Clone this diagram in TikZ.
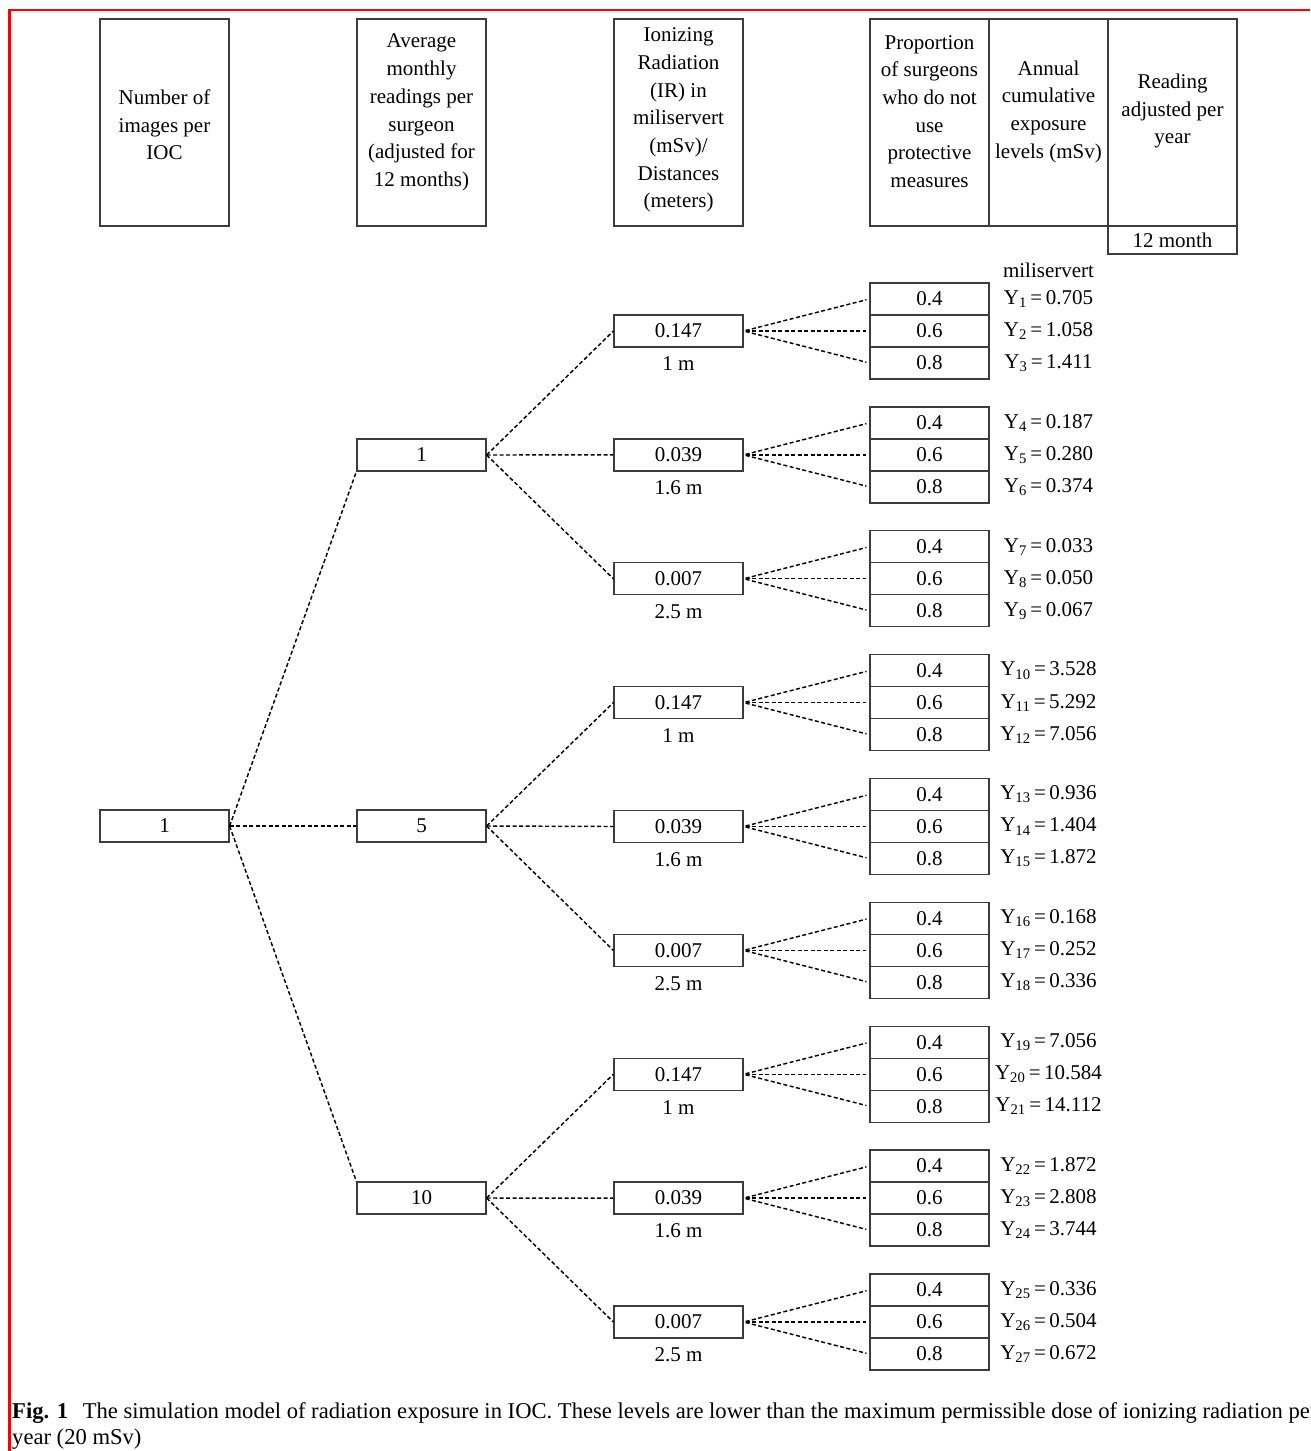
\documentclass[tikz,border=0pt]{standalone}
\usepackage{fontspec}
\setmainfont{Liberation Serif}
\newfontfamily\tnr{Liberation Serif}
\definecolor{boxgray}{RGB}{60,60,60}
\begin{document}
\begin{tikzpicture}[x=1pt,y=-1pt,
  mainfont/.style={font=\tnr\fontsize{21}{27.7}\selectfont},
  hbox/.style={draw=boxgray, line width=1.3pt, minimum height=207pt, inner sep=0pt},
  wide/.style={minimum width=129pt},
  narrow/.style={minimum width=119pt},
  htext/.style={mainfont, align=center, inner sep=0pt},
  vbox/.style={draw=boxgray, line width=1.3pt, minimum width=129pt, minimum height=32pt, inner sep=0pt, mainfont},
  pbox/.style={draw=boxgray, line width=1.3pt, minimum width=119pt, minimum height=32pt, inner sep=0pt, mainfont},
  lab/.style={mainfont, inner sep=0pt},
  conn/.style={dashed, dash pattern=on 4pt off 2.5pt, line width=1.45pt, black},
  capfont/.style={font=\tnr\fontsize{22.6}{26}\selectfont, inner sep=0pt}
]
\useasboundingbox (0,0) rectangle (1310,1451);
\clip (0,0) rectangle (1310,1451);
\fill[white] (0,0) rectangle (1310,1451);

% red frame
\draw[red, line width=2.6pt] (9.5,1460) -- (9.5,10) -- (1320,10);

% header boxes
\node[hbox, wide]   (h1) at (164.5,122.5) {};
\node[hbox, wide]   (h2) at (421.5,122.5) {};
\node[hbox, wide]   (h3) at (678.5,122.5) {};
\node[hbox, narrow] (h4) at (929.5,122.5) {};
\node[hbox, narrow] (h5) at (1048.5,122.5) {};
\node[hbox, wide]   (h6) at (1172.5,122.5) {};
\node[draw=boxgray, line width=1.3pt, minimum width=129pt, minimum height=28pt, inner sep=0pt, mainfont] (h7) at (1172.5,240) {12 month};

\node[htext] (t1) at (164.5,125) {Number of\\images per\\IOC};
\node[htext] (t2) at (421.5,112.5) {Average\\monthly\\readings per\\surgeon\\(adjusted for\\12 months)};
\node[htext] (t3) at (678.5,120) {Ionizing\\Radiation\\(IR) in\\miliservert\\(mSv)/\\Distances\\(meters)};
\node[htext] (t4) at (929.5,111.5) {Proportion\\of surgeons\\who do not\\use\\protective\\measures};
\node[htext] (t5) at (1048.5,111.5) {Annual\\cumulative\\exposure\\levels (mSv)};
\node[htext] (t6) at (1172.5,111) {Reading\\adjusted per\\year};

\node[lab] (unit) at (1048.5,270) {miliservert};

% tree
\node[vbox] (r) at (164.5,826) {1};
\node[vbox] (a1) at (421.5,455) {1};
\node[vbox] (a2) at (421.5,826) {5};
\node[vbox] (a3) at (421.5,1198) {10};

\draw[conn] (r.east) -- (a1.south west);
\draw[conn] (r.east) -- (a2.west);
\draw[conn] (r.east) -- (a3.north west);

\foreach \i/\v/\d in {1/0.147/1 m,2/0.039/1.6 m,3/0.007/2.5 m,4/0.147/1 m,5/0.039/1.6 m,6/0.007/2.5 m,7/0.147/1 m,8/0.039/1.6 m,9/0.007/2.5 m}{
  \pgfmathsetmacro\cy{331+123.875*(\i-1)}
  \node[vbox] (b\i) at (678.5,\cy) {\v};
  \node[lab] (d\i) at (678.5,\cy+33) {\d};
  \foreach \j/\p in {1/0.4,2/0.6,3/0.8}{
    \node[pbox] (c\i-\j) at (929.5,\cy+32*\j-64) {\p};
    \draw[conn, shorten >=3pt, shorten <=2pt] (b\i.east) -- (c\i-\j.west);
  }
}
\foreach \i/\a in {1/1,2/1,3/1,4/2,5/2,6/2,7/3,8/3,9/3}{
  \draw[conn] (a\a.east) -- (b\i.west);
}

\foreach \k/\val in {1/0.705,2/1.058,3/1.411,4/0.187,5/0.280,6/0.374,7/0.033,8/0.050,9/0.067,10/3.528,11/5.292,12/7.056,13/0.936,14/1.404,15/1.872,16/0.168,17/0.252,18/0.336,19/7.056,20/10.584,21/14.112,22/1.872,23/2.808,24/3.744,25/0.336,26/0.504,27/0.672}{
  \pgfmathtruncatemacro\gi{int((\k-1)/3)}
  \pgfmathsetmacro\yy{331+123.875*\gi+32*(\k-3*\gi)-64}
  \node[lab] (y\k) at (1048.5,\yy) {Y\textsubscript{\k}\,=\,\val};
}

% caption
\node[capfont, anchor=base west] (cap1) at (12,1418) {\textbf{Fig. 1}\hspace{0.65em}The simulation model of radiation exposure in IOC. These levels are lower than the maximum permissible dose of ionizing radiation per};
\node[capfont, anchor=base west] (cap2) at (12,1444) {year (20 mSv)};
\end{tikzpicture}
\end{document}
